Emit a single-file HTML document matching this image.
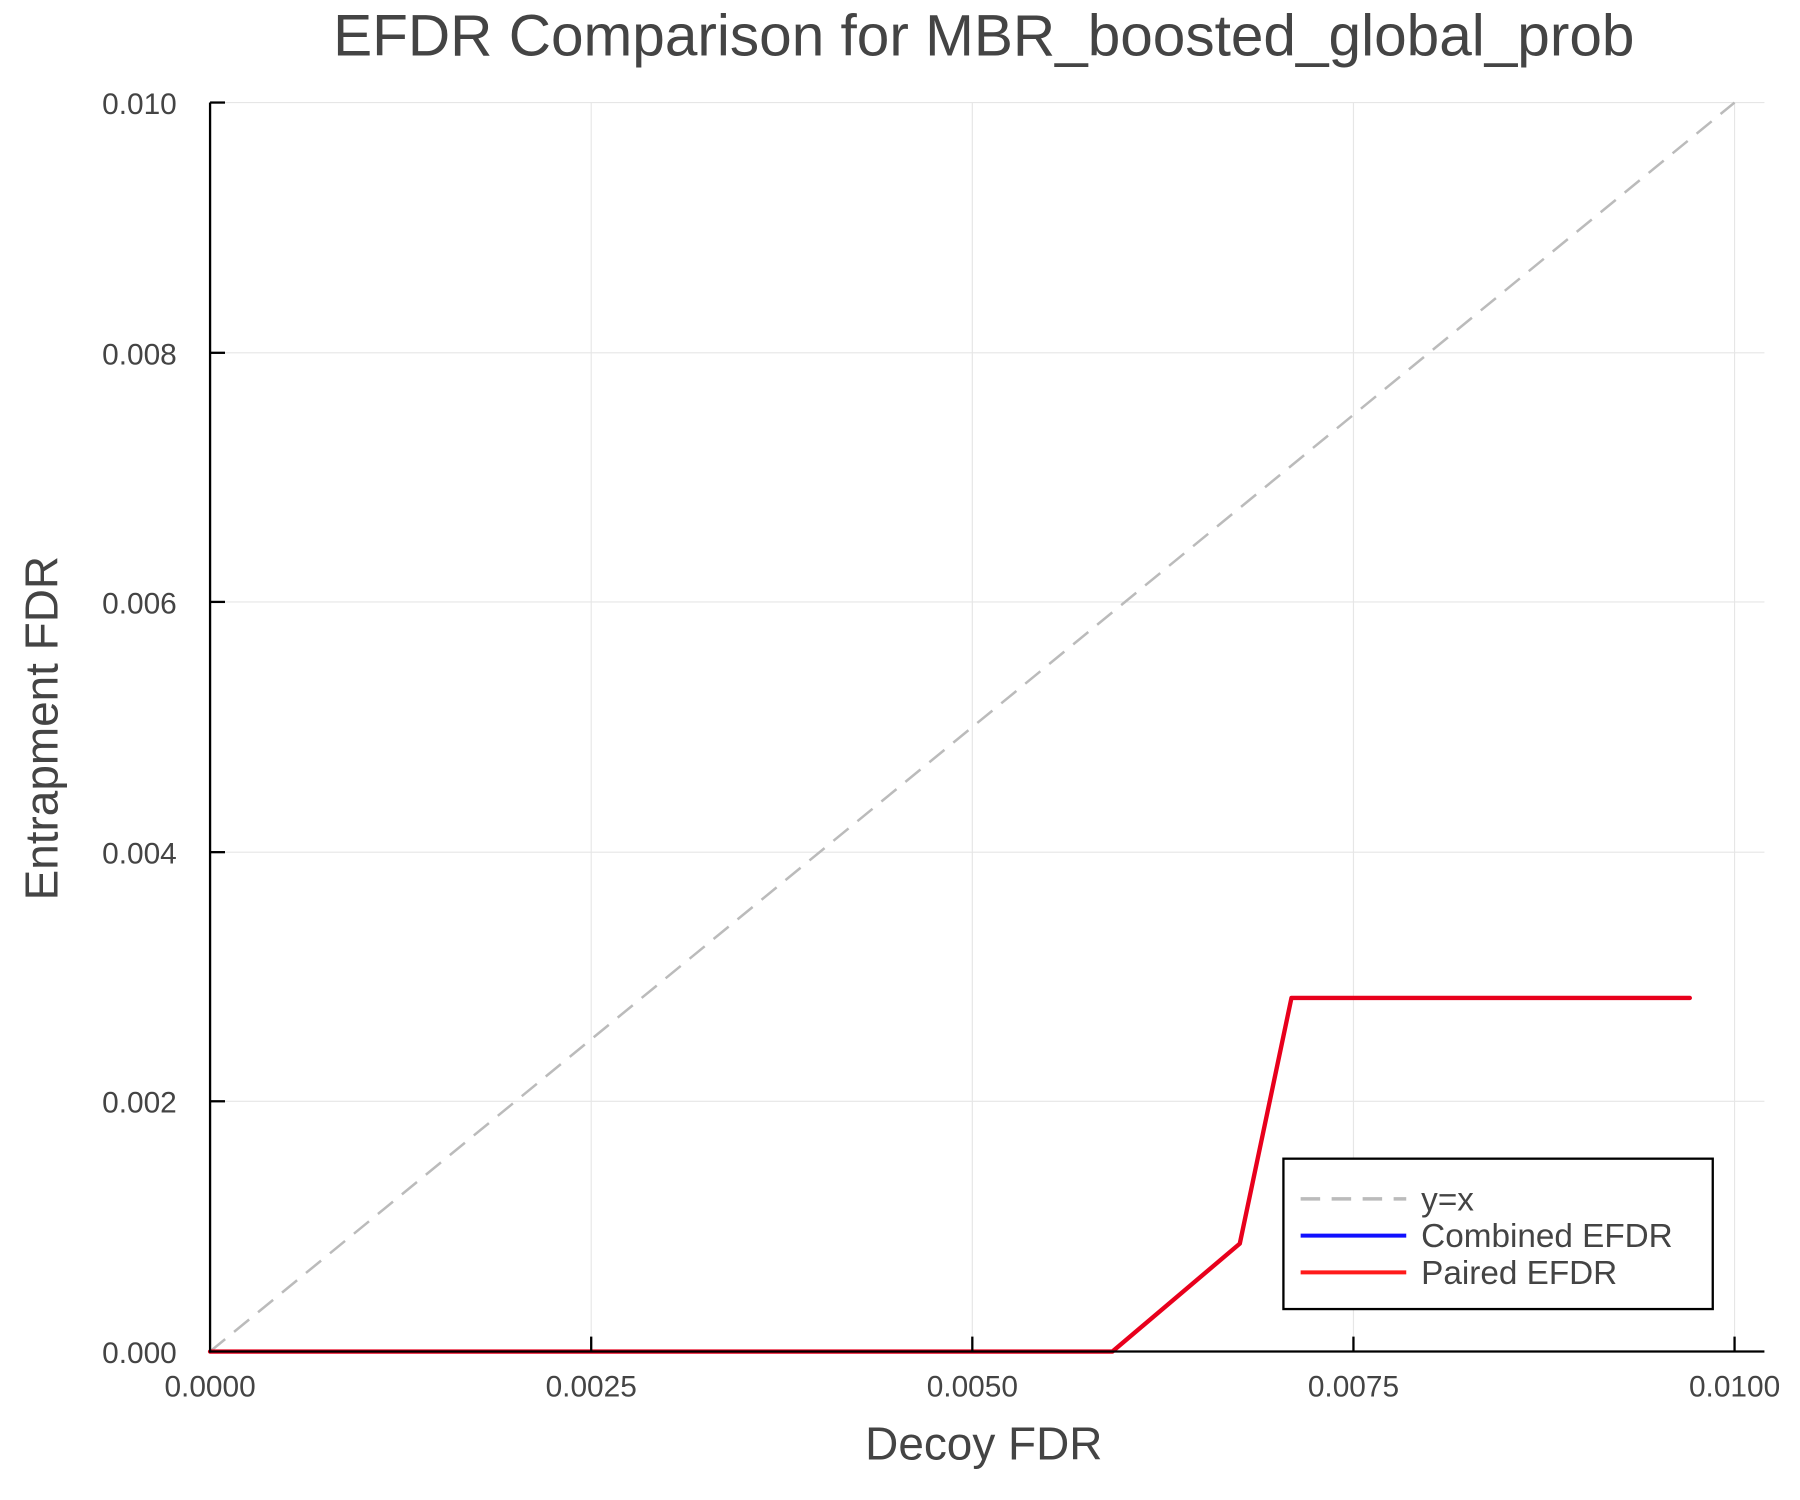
<!DOCTYPE html>
<html><head><meta charset="utf-8"><style>
html,body{margin:0;padding:0;background:#fff;}
svg{display:block;}
text{font-family:"Liberation Sans",sans-serif;fill:#444;}
</style></head><body>
<svg width="1800" height="1500" viewBox="0 0 1568 1306" xmlns="http://www.w3.org/2000/svg">
<rect width="1568" height="1306" fill="#fff"/>
<g stroke="#e6e6e6" stroke-width="1">
<line x1="515" y1="89" x2="515" y2="1177"/>
<line x1="847" y1="89" x2="847" y2="1177"/>
<line x1="1179" y1="89" x2="1179" y2="1177"/>
<line x1="1511" y1="89" x2="1511" y2="1177"/>
<line x1="183" y1="89" x2="1537" y2="89"/>
<line x1="183" y1="307" x2="1537" y2="307"/>
<line x1="183" y1="524" x2="1537" y2="524"/>
<line x1="183" y1="742" x2="1537" y2="742"/>
<line x1="183" y1="959" x2="1537" y2="959"/>
</g>
<line x1="183" y1="1177" x2="1511" y2="89" stroke="#bbb" stroke-width="2.2" stroke-dasharray="17,10"/>
<polyline points="183,1177 969,1177 1080,1083 1125,869 1472,869" fill="none" stroke="#e8001c" stroke-width="3.8" stroke-linejoin="round" stroke-linecap="round"/>
<g stroke="#000" stroke-width="2">
<line x1="183" y1="89" x2="183" y2="1178"/>
<line x1="182" y1="1177" x2="1537" y2="1177"/>
<line x1="183" y1="89" x2="196" y2="89"/>
<line x1="183" y1="307" x2="196" y2="307"/>
<line x1="183" y1="524" x2="196" y2="524"/>
<line x1="183" y1="742" x2="196" y2="742"/>
<line x1="183" y1="959" x2="196" y2="959"/>
<line x1="515" y1="1164" x2="515" y2="1177"/>
<line x1="847" y1="1164" x2="847" y2="1177"/>
<line x1="1179" y1="1164" x2="1179" y2="1177"/>
<line x1="1511" y1="1164" x2="1511" y2="1177"/>
</g>
<g font-size="26" text-anchor="end">
<text x="154" y="99">0.010</text>
<text x="154" y="317">0.008</text>
<text x="154" y="534">0.006</text>
<text x="154" y="752">0.004</text>
<text x="154" y="969">0.002</text>
<text x="154" y="1187">0.000</text>
</g>
<g font-size="26" text-anchor="middle">
<text x="183" y="1216">0.0000</text>
<text x="515" y="1216">0.0025</text>
<text x="847" y="1216">0.0050</text>
<text x="1179" y="1216">0.0075</text>
<text x="1511" y="1216">0.0100</text>
</g>
<text x="857" y="1271" font-size="40" text-anchor="middle">Decoy FDR</text>
<text transform="translate(50,634) rotate(-90)" font-size="40" text-anchor="middle">Entrapment FDR</text>
<text x="857" y="48" font-size="51" text-anchor="middle">EFDR Comparison for MBR_boosted_global_prob</text>
<rect x="1118" y="1009" width="374" height="131" fill="#fff" stroke="#000" stroke-width="2"/>
<line x1="1133" y1="1044" x2="1225" y2="1044" stroke="#bbb" stroke-width="3" stroke-dasharray="17,10"/>
<line x1="1133" y1="1076" x2="1225" y2="1076" stroke="#1010ff" stroke-width="3.5"/>
<line x1="1133" y1="1108" x2="1225" y2="1108" stroke="#ff1a1a" stroke-width="3.5"/>
<g font-size="29">
<text x="1238" y="1054">y=x</text>
<text x="1238" y="1086">Combined EFDR</text>
<text x="1238" y="1118">Paired EFDR</text>
</g>
</svg>
</body></html>
